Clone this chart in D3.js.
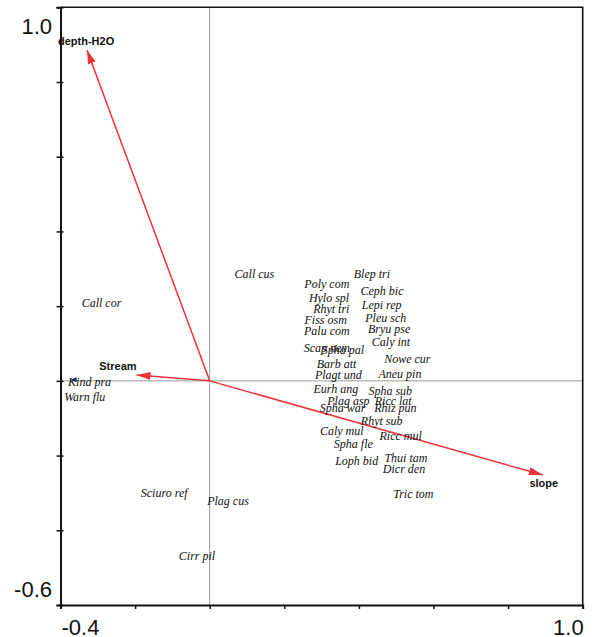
<!DOCTYPE html>
<html>
<head>
<meta charset="utf-8">
<script src="https://cdn.jsdelivr.net/npm/d3@7"></script>
<style>
  html, body { margin: 0; padding: 0; background: #fff; }
  svg { display: block; }
</style>
</head>
<body>
<svg id="chart" width="596" height="637"></svg>
<script>
// Species scores (axis 1, axis 2)
const speciesNames = [
  "Call cus", "Call cor", "Kind pra", "Warn flu",
  "Blep tri", "Poly com", "Ceph bic", "Hylo spl", "Lepi rep", "Rhyt tri",
  "Fiss osm", "Pleu sch", "Bryu pse", "Palu com", "Caly int", "Scap nem",
  "Spha pal", "Nowe cur", "Barb att", "Plagt und", "Aneu pin",
  "Eurh ang", "Spha sub", "Plag asp", "Ricc lat", "Spha war", "Rhiz pun",
  "Rhyt sub", "Caly mul", "Ricc mul", "Spha fle", "Thui tam", "Loph bid",
  "Dicr den", "Tric tom", "Sciuro ref", "Plag cus", "Cirr pil"
];
const speciesX = [
  0.120, -0.290, -0.322, -0.335,
  0.435, 0.314, 0.462, 0.320, 0.461, 0.326,
  0.311, 0.472, 0.481, 0.314, 0.486, 0.314,
  0.357, 0.530, 0.340, 0.345, 0.510,
  0.338, 0.484, 0.372, 0.492, 0.356, 0.498,
  0.461, 0.354, 0.512, 0.385, 0.526, 0.394,
  0.521, 0.546, -0.122, 0.049, -0.034
];
const speciesY = [
  0.285, 0.209, -0.002, -0.042,
  0.285, 0.259, 0.241, 0.223, 0.202, 0.192,
  0.162, 0.167, 0.138, 0.134, 0.105, 0.089,
  0.082, 0.059, 0.044, 0.016, 0.018,
  -0.022, -0.027, -0.054, -0.054, -0.072, -0.072,
  -0.107, -0.134, -0.148, -0.170, -0.206, -0.214,
  -0.237, -0.304, -0.299, -0.322, -0.469
];

// Environmental variable arrows
const envNames = ["depth-H2O", "Stream", "slope"];
const envX = [-0.329, -0.196, 0.893];
const envY = [0.886, 0.016, -0.252];

// Axis ranges and tick values
const xDomain = [-0.4, 1.0];
const yDomain = [-0.6, 1.0];
const xTicks = [-0.4, -0.2, 0.0, 0.2, 0.4, 0.6, 0.8, 1.0];
const yTicks = [-0.6, -0.4, -0.2, 0.0, 0.2, 0.4, 0.6, 0.8, 1.0];
const xTickLabels = ["-0.4", "1.0"];
const yTickLabels = ["1.0", "-0.6"];

const svg = d3.select("#chart");
const plotLeft = 60.5, plotRight = 582.7, plotTop = 7.3, plotBottom = 605;

const x = d3.scaleLinear().domain(xDomain).range([plotLeft, plotRight]);
const y = d3.scaleLinear().domain(yDomain).range([plotBottom, plotTop]);

// Zero reference lines
svg.append("line")
  .attr("x1", x(0)).attr("x2", x(0))
  .attr("y1", plotTop).attr("y2", plotBottom)
  .attr("stroke", "#9a9a9a").attr("stroke-width", 1);
svg.append("line")
  .attr("x1", plotLeft).attr("x2", plotRight)
  .attr("y1", y(0)).attr("y2", y(0))
  .attr("stroke", "#9a9a9a").attr("stroke-width", 1);

// Frame: top and right edges
svg.append("path")
  .attr("d", `M${plotLeft},${plotTop}H${plotRight}V${plotBottom}`)
  .attr("fill", "none").attr("stroke", "#111").attr("stroke-width", 1.6);

// Bottom axis
const xAxis = d3.axisBottom(x).tickValues(xTicks).tickSize(4).tickFormat("");
const gx = svg.append("g").attr("transform", `translate(0,${plotBottom})`).call(xAxis);
gx.select(".domain").attr("stroke", "#111").attr("stroke-width", 2);
gx.selectAll(".tick line").attr("stroke", "#111").attr("stroke-width", 1.5);

// Left axis
const yAxis = d3.axisLeft(y).tickValues(yTicks).tickSize(4).tickFormat("");
const gy = svg.append("g").attr("transform", `translate(${plotLeft},0)`).call(yAxis);
gy.select(".domain").attr("stroke", "#111").attr("stroke-width", 2);
gy.selectAll(".tick line").attr("stroke", "#111").attr("stroke-width", 1.5).attr("x2", 3).attr("x1", -4);

// End tick labels
const labFont = "Liberation Sans, Arial, sans-serif";
svg.append("text").text(yTickLabels[0])
  .attr("x", 52).attr("y", 34)
  .attr("text-anchor", "end").attr("font-family", labFont).attr("font-size", 22).attr("fill", "#111");
svg.append("text").text(yTickLabels[1])
  .attr("x", 52).attr("y", 597)
  .attr("text-anchor", "end").attr("font-family", labFont).attr("font-size", 22).attr("fill", "#111");
svg.append("text").text(xTickLabels[0])
  .attr("x", plotLeft + 1).attr("y", 635)
  .attr("text-anchor", "start").attr("font-family", labFont).attr("font-size", 22).attr("fill", "#111");
svg.append("text").text(xTickLabels[1])
  .attr("x", plotRight + 1).attr("y", 635)
  .attr("text-anchor", "end").attr("font-family", labFont).attr("font-size", 22).attr("fill", "#111");

// Arrow marker
const red = "#ee3338";
svg.append("defs").append("marker")
  .attr("id", "head")
  .attr("viewBox", "0 0 14 8")
  .attr("refX", 14).attr("refY", 4)
  .attr("markerWidth", 14).attr("markerHeight", 8)
  .attr("markerUnits", "userSpaceOnUse")
  .attr("orient", "auto")
  .append("path").attr("d", "M0,0L14,4L0,8Z").attr("fill", red);

const env = envNames.map((n, i) => ({ name: n, x: envX[i], y: envY[i] }));
svg.append("g").selectAll("line").data(env).join("line")
  .attr("x1", x(0)).attr("y1", y(0))
  .attr("x2", d => x(d.x)).attr("y2", d => y(d.y))
  .attr("stroke", red).attr("stroke-width", 1.5)
  .attr("marker-end", "url(#head)");

// Arrow labels
const envLabelOffset = { "depth-H2O": [-29, -5, "start"], "Stream": [0, -5, "end"], "slope": [1, 12, "middle"] };
svg.append("g").selectAll("text").data(env).join("text")
  .text(d => d.name)
  .attr("x", d => x(d.x) + envLabelOffset[d.name][0])
  .attr("y", d => y(d.y) + envLabelOffset[d.name][1])
  .attr("text-anchor", d => envLabelOffset[d.name][2])
  .attr("font-family", labFont).attr("font-weight", "bold").attr("font-size", 11).attr("fill", "#111");

// Small species marker beside Kind pra
const kp = speciesNames.indexOf("Kind pra");
svg.append("path")
  .attr("d", `M${x(speciesX[kp]) - 19},${y(0) - 1}l6,-2.5l0,5z`)
  .attr("fill", "#22307a");

// Species labels
const species = speciesNames.map((n, i) => ({ name: n, x: speciesX[i], y: speciesY[i] }));
svg.append("g").selectAll("text").data(species).join("text")
  .text(d => d.name)
  .attr("x", d => x(d.x)).attr("y", d => y(d.y) + 4)
  .attr("text-anchor", "middle")
  .attr("font-family", "Liberation Serif, Times New Roman, serif")
  .attr("font-style", "italic").attr("font-size", 12).attr("fill", "#111");
</script>
</body>
</html>
